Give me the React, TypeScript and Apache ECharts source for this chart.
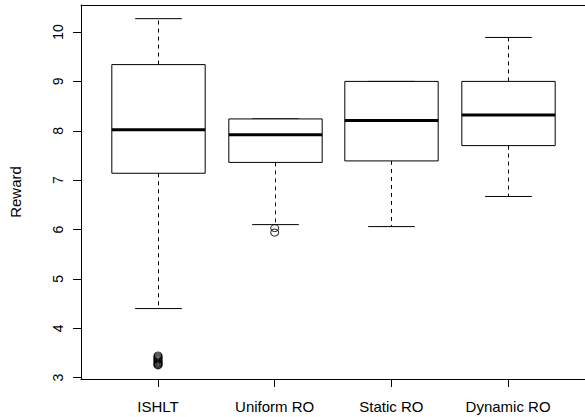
import React, { useEffect, useRef } from "react";
import * as echarts from "echarts";

const categories = ["ISHLT", "Uniform RO", "Static RO", "Dynamic RO"];
const lowerWhisker = [4.4, 6.1, 6.06, 6.67];
const q1 = [7.14, 7.36, 7.39, 7.7];
const median = [8.02, 7.92, 8.21, 8.32];
const q3 = [9.34, 8.24, 9.0, 9.0];
const upperWhisker = [10.27, 8.24, 9.0, 9.89];
const outlierGroup = [0, 0, 0, 0, 0, 0, 0, 0, 0, 0, 0, 0, 1, 1];
const outlierValue = [3.25, 3.26, 3.28, 3.29, 3.31, 3.33, 3.35, 3.37, 3.39, 3.41, 3.43, 3.45, 6.03, 5.94];
const yTicks = [3, 4, 5, 6, 7, 8, 9, 10];
const xTicks = [1, 2, 3, 4];

const FONT = "'Liberation Sans', Arial, Helvetica, sans-serif";

export default function App() {
  const ref = useRef<HTMLDivElement>(null);
  useEffect(() => {
    if (!ref.current) return;
    const chart = echarts.init(ref.current, undefined, { renderer: "svg" });
    const boxData = categories.map((_, i) => [
      i + 1,
      lowerWhisker[i],
      q1[i],
      median[i],
      q3[i],
      upperWhisker[i],
    ]);
    const outData = outlierGroup.map((g, i) => [g + 1, outlierValue[i]]);

    const renderItem = (params: any, api: any) => {
      const x = api.value(0);
      const lw = api.coord([x, api.value(1)]);
      const p1 = api.coord([x, api.value(2)]);
      const pm = api.coord([x, api.value(3)]);
      const p3 = api.coord([x, api.value(4)]);
      const uw = api.coord([x, api.value(5)]);
      const halfBox = (api.coord([x + 0.4, 0])[0] - api.coord([x - 0.4, 0])[0]) / 2;
      const halfCap = halfBox / 2;
      const cx = Math.round(lw[0]) + 0.5;
      const dash = { stroke: "#000", lineWidth: 1, lineDash: [4, 4] };
      const solid = { stroke: "#000", lineWidth: 1 };
      return {
        type: "group",
        children: [
          { type: "line", shape: { x1: cx, y1: p1[1], x2: cx, y2: lw[1] }, style: dash },
          { type: "line", shape: { x1: cx, y1: p3[1], x2: cx, y2: uw[1] }, style: dash },
          { type: "line", shape: { x1: cx - halfCap, y1: lw[1], x2: cx + halfCap, y2: lw[1] }, style: solid },
          { type: "line", shape: { x1: cx - halfCap, y1: uw[1], x2: cx + halfCap, y2: uw[1] }, style: solid },
          {
            type: "rect",
            shape: { x: cx - halfBox, y: p3[1], width: halfBox * 2, height: p1[1] - p3[1] },
            style: { fill: "#fff", stroke: "#000", lineWidth: 1 },
          },
          { type: "line", shape: { x1: cx - halfBox, y1: pm[1], x2: cx + halfBox, y2: pm[1] }, style: { stroke: "#000", lineWidth: 3 } },
        ],
      };
    };

    chart.setOption({
      animation: false,
      grid: {
        left: 80,
        right: 0,
        top: 5,
        bottom: 38,
        show: false,
      },
      xAxis: [
        {
          type: "value",
          position: "bottom",
          min: 0.34,
          max: 4.788,
          splitLine: { show: false },
          axisLine: { show: true, onZero: false, lineStyle: { color: "#000", width: 1 } },
          axisTick: { show: true, customValues: xTicks, length: 8, lineStyle: { color: "#000" } },
          axisLabel: {
            customValues: xTicks,
            formatter: (v: number) => categories[Math.round(v) - 1] ?? "",
            color: "#000",
            fontFamily: FONT,
            fontSize: 15,
            margin: 20,
          },
        },
        {
          type: "value",
          position: "top",
          min: 0.34,
          max: 4.788,
          splitLine: { show: false },
          axisLine: { show: true, onZero: false, lineStyle: { color: "#000", width: 1 } },
          axisTick: { show: false },
          axisLabel: { show: false },
        },
      ],
      yAxis: {
        type: "value",
        min: 2.974,
        max: 10.547,
        name: "Reward",
        nameLocation: "middle",
        nameGap: 58,
        nameTextStyle: { color: "#000", fontFamily: FONT, fontSize: 15 },
        splitLine: { show: false },
        axisLine: { show: true, onZero: false, lineStyle: { color: "#000", width: 1 } },
        axisTick: { show: true, customValues: yTicks, length: 8, lineStyle: { color: "#000" } },
        axisLabel: {
          customValues: yTicks,
          rotate: 90,
          color: "#000",
          fontFamily: FONT,
          fontSize: 14,
          margin: 16,
        },
      },
      series: [
        {
          type: "custom",
          renderItem,
          data: boxData,
          encode: { x: 0, y: [1, 2, 3, 4, 5] },
          z: 2,
        },
        {
          type: "scatter",
          data: outData,
          symbol: "circle",
          symbolSize: [8, 7],
          itemStyle: { color: "rgba(255,255,255,0)", borderColor: "#000", borderWidth: 1 },
          z: 3,
        },
      ],
    });
    return () => chart.dispose();
  }, []);
  return (
    <div style={{ position: "fixed", left: 0, top: 0, width: 585, height: 417, overflow: "hidden", background: "#fff" }}>
      <div ref={ref} style={{ width: 600, height: 417 }} />
    </div>
  );
}
